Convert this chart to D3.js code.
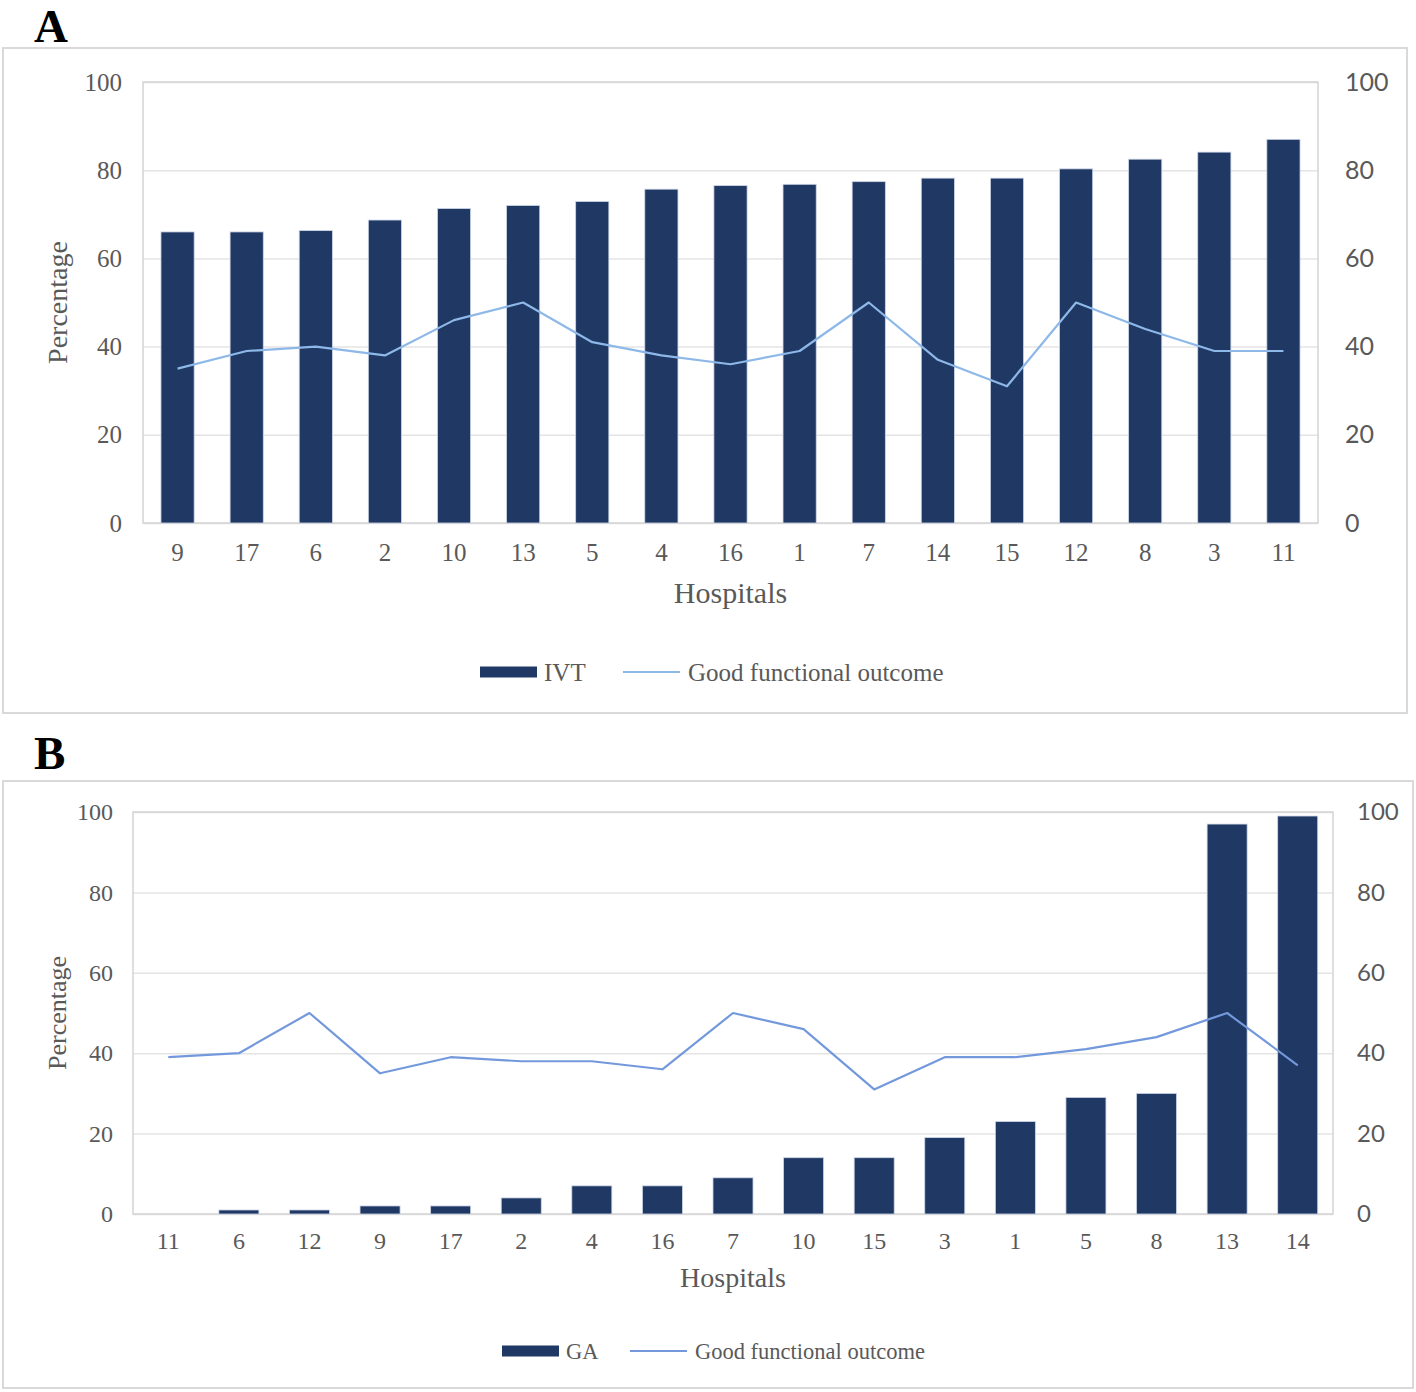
<!DOCTYPE html>
<html>
<head>
<meta charset="utf-8">
<script src="https://cdn.jsdelivr.net/npm/d3@7"></script>
<style>
  body { margin: 0; background: #fff; }
</style>
</head>
<body>
<div id="chart"></div>
<script>
// panel A: hospitals ordered by IVT rate
var hospitalsA = ["9","17","6","2","10","13","5","4","16","1","7","14","15","12","8","3","11"];
var ivtA = [66, 66, 66.3, 68.7, 71.3, 72, 72.9, 75.7, 76.5, 76.8, 77.4, 78.2, 78.2, 80.3, 82.5, 84.1, 87];
var gfoA = [35, 39, 40, 38, 46, 50, 41, 38, 36, 39, 50, 37, 31, 50, 44, 39, 39];

// panel B: hospitals ordered by GA rate
var hospitalsB = ["11","6","12","9","17","2","4","16","7","10","15","3","1","5","8","13","14"];
var gaB = [0, 1, 1, 2, 2, 4, 7, 7, 9, 14, 14, 19, 23, 29, 30, 97, 99];
var gfoB = [39, 40, 50, 35, 39, 38, 38, 36, 50, 46, 31, 39, 39, 41, 44, 50, 37];

var yTicks = [0, 20, 40, 60, 80, 100];

var serif = "'Liberation Serif', 'Times New Roman', serif";
var sans = "Lato, 'Liberation Sans', sans-serif";
var grey = "#595959";
var barColor = "#1f3864";

var svg = d3.select("#chart")
  .append("svg")
    .attr("width", 1416)
    .attr("height", 1392);

svg.append("rect").attr("width", 1416).attr("height", 1392).attr("fill", "#fff");

function drawPanel(p) {
  var g = svg.append("g");

  // panel letter
  g.append("text")
    .attr("x", p.letterX).attr("y", p.letterY)
    .attr("font-family", serif).attr("font-weight", "bold")
    .attr("font-size", 47).attr("fill", "#000")
    .text(p.letter);

  // chart frame
  g.append("rect")
    .attr("x", p.box[0]).attr("y", p.box[1])
    .attr("width", p.box[2]).attr("height", p.box[3])
    .attr("fill", "#fff").attr("stroke", "#d9d9d9").attr("stroke-width", 2);

  var x = d3.scaleBand()
    .domain(p.cats)
    .range([p.left, p.right])
    .paddingInner(p.pad)
    .paddingOuter(p.pad / 2);
  var y = d3.scaleLinear().domain([0, 100]).range([p.bottom, p.top]);
  var y2 = d3.scaleLinear().domain([0, 100]).range([p.bottom, p.top]);

  // gridlines
  g.append("g")
    .attr("transform", "translate(" + p.left + ",0)")
    .call(d3.axisLeft(y).tickValues(yTicks).tickSize(-(p.right - p.left)).tickFormat(""))
    .call(function(s) { s.select(".domain").remove(); })
    .selectAll("line")
      .attr("stroke", "#e4e4e4").attr("stroke-width", 1.5);

  // plot area border
  g.append("rect")
    .attr("x", p.left).attr("y", p.top)
    .attr("width", p.right - p.left).attr("height", p.bottom - p.top)
    .attr("fill", "none").attr("stroke", "#d4d4d4").attr("stroke-width", 1.5);

  // bars
  g.selectAll("rect.bar")
    .data(p.bars)
    .enter()
    .append("rect")
      .attr("class", "bar")
      .attr("x", function(d, i) { return x(p.cats[i]); })
      .attr("y", function(d) { return y(d); })
      .attr("width", x.bandwidth())
      .attr("height", function(d) { return y(0) - y(d); })
      .attr("fill", barColor)
      .attr("stroke", "#cdd6e6").attr("stroke-width", 0.8);

  // good functional outcome line (secondary axis)
  var line = d3.line()
    .x(function(d, i) { return x(p.cats[i]) + x.bandwidth() / 2; })
    .y(function(d) { return y2(d); });
  g.append("path")
    .datum(p.gfo)
    .attr("d", line)
    .attr("fill", "none")
    .attr("stroke", p.lineColor)
    .attr("stroke-width", 2.2)
    .attr("stroke-linejoin", "round");

  // left axis labels
  g.append("g")
    .attr("transform", "translate(" + p.leftLabelX + ",0)")
    .call(d3.axisLeft(y).tickValues(yTicks).tickSize(0).tickPadding(0))
    .call(function(s) { s.select(".domain").remove(); })
    .selectAll("text")
      .attr("font-family", serif).attr("font-size", p.fs).attr("fill", grey);

  // right axis labels
  g.append("g")
    .attr("transform", "translate(" + p.rightLabelX + ",0)")
    .call(d3.axisRight(y2).tickValues(yTicks).tickSize(0).tickPadding(0))
    .call(function(s) { s.select(".domain").remove(); })
    .selectAll("text")
      .attr("font-family", sans).attr("font-size", p.fs).attr("fill", grey);

  // category labels
  g.append("g")
    .attr("transform", "translate(0," + p.bottom + ")")
    .call(d3.axisBottom(x).tickSize(0).tickPadding(p.xPad))
    .call(function(s) { s.select(".domain").remove(); })
    .selectAll("text")
      .attr("font-family", serif).attr("font-size", p.fs).attr("fill", grey);

  // axis titles
  g.append("text")
    .attr("x", (p.left + p.right) / 2).attr("y", p.xTitleY)
    .attr("text-anchor", "middle")
    .attr("font-family", serif).attr("font-size", p.titleFs).attr("fill", grey)
    .text("Hospitals");

  g.append("text")
    .attr("transform", "translate(" + p.yTitleX + "," + (p.top + p.bottom) / 2 + ") rotate(-90)")
    .attr("text-anchor", "middle")
    .attr("font-family", serif).attr("font-size", p.titleFs - 2).attr("fill", grey)
    .text("Percentage");

  // legend
  var lg = g.append("g").attr("transform", "translate(0," + p.legendY + ")");
  lg.append("rect")
    .attr("x", p.legendX).attr("y", -5.5)
    .attr("width", 57).attr("height", 11)
    .attr("fill", barColor);
  lg.append("text")
    .attr("x", p.legendX + 64).attr("y", 0).attr("dy", "0.35em")
    .attr("font-family", serif).attr("font-size", p.legendFs).attr("fill", grey)
    .text(p.barName);
  lg.append("line")
    .attr("x1", p.legendLineX).attr("x2", p.legendLineX + 57)
    .attr("y1", 0).attr("y2", 0)
    .attr("stroke", p.lineColor).attr("stroke-width", 2.2);
  lg.append("text")
    .attr("x", p.legendLineX + 65).attr("y", 0).attr("dy", "0.35em")
    .attr("font-family", serif).attr("font-size", p.legendFs).attr("fill", grey)
    .text("Good functional outcome");
}

drawPanel({
  letter: "A", letterX: 34, letterY: 42,
  box: [3, 48, 1404, 665],
  cats: hospitalsA, bars: ivtA, gfo: gfoA, barName: "IVT",
  left: 143, right: 1318, top: 82, bottom: 523, pad: 0.52,
  lineColor: "#8db8e8",
  leftLabelX: 122, rightLabelX: 1345, fs: 25, xPad: 20,
  xTitleY: 603, yTitleX: 67, titleFs: 30,
  legendY: 672, legendX: 480, legendLineX: 623, legendFs: 25
});

drawPanel({
  letter: "B", letterX: 34, letterY: 769,
  box: [3, 781, 1410, 607],
  cats: hospitalsB, bars: gaB, gfo: gfoB, barName: "GA",
  left: 133, right: 1333, top: 812, bottom: 1214, pad: 0.433,
  lineColor: "#7399dc",
  leftLabelX: 113, rightLabelX: 1357, fs: 24, xPad: 18,
  xTitleY: 1287, yTitleX: 66, titleFs: 28,
  legendY: 1351, legendX: 502, legendLineX: 630, legendFs: 22.5
});
</script>
</body>
</html>
